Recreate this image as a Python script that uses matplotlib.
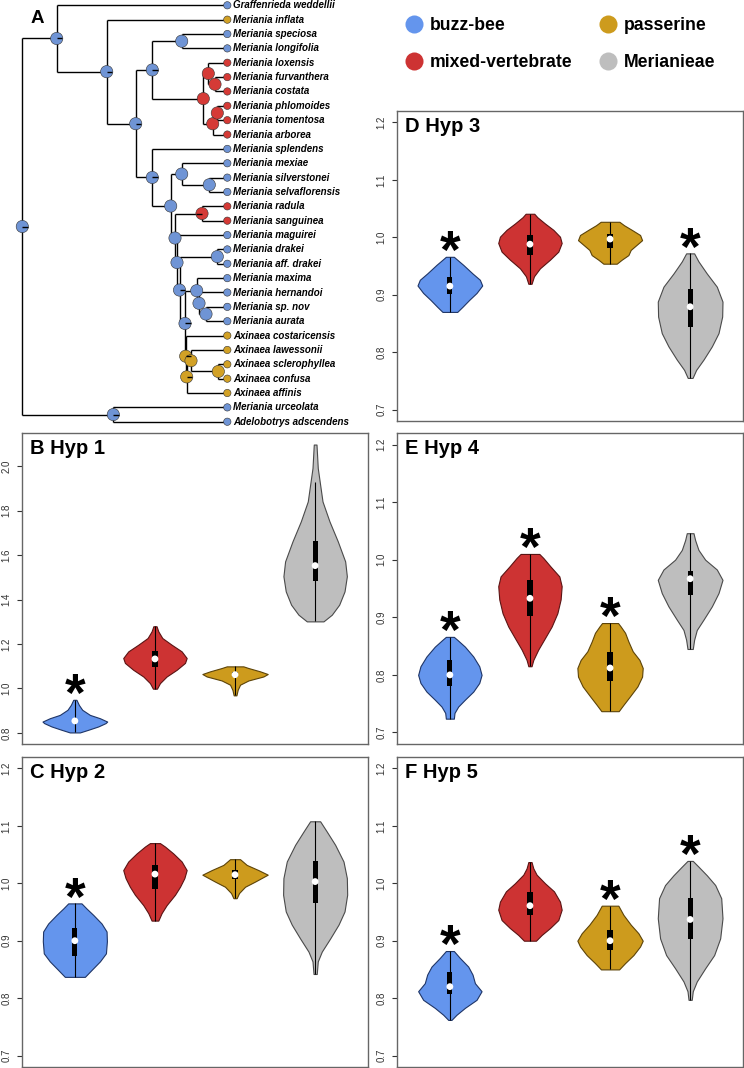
import matplotlib
matplotlib.use("Agg")
import matplotlib.pyplot as plt
from matplotlib.lines import Line2D

plt.rcParams['font.family'] = ['Liberation Sans', 'DejaVu Sans']

W, H = 744, 1068

groups = ["buzz-bee", "mixed-vertebrate", "passerine", "Merianieae"]
fills = ["#6495ED", "#CD3333", "#CD9B1D", "#BEBEBE"]
edges = ["#1f3566", "#5a1414", "#5c4308", "#4a4a4a"]
tree_cols = ["#6F94D5", "#D53A36", "#D2A126"]

# ---- tree (A) ----
tip_names = ["Graffenrieda weddellii", "Meriania inflata", "Meriania speciosa",
             "Meriania longifolia", "Meriania loxensis", "Meriania furvanthera",
             "Meriania costata", "Meriania phlomoides", "Meriania tomentosa",
             "Meriania arborea", "Meriania splendens", "Meriania mexiae",
             "Meriania silverstonei", "Meriania selvaflorensis", "Meriania radula",
             "Meriania sanguinea", "Meriania maguirei", "Meriania drakei",
             "Meriania aff. drakei", "Meriania maxima", "Meriania hernandoi",
             "Meriania sp. nov", "Meriania aurata", "Axinaea costaricensis",
             "Axinaea lawessonii", "Axinaea sclerophyllea", "Axinaea confusa",
             "Axinaea affinis", "Meriania urceolata", "Adelobotrys adscendens"]
# 0 buzz-bee, 1 mixed-vertebrate, 2 passerine
tip_state = [0, 2, 0, 0, 1, 1, 1, 1, 1, 1, 0, 0, 0, 0, 1, 1, 0, 0, 0, 0, 0, 0, 0,
             2, 2, 2, 2, 2, 0, 0]
tip_depth = 205

node_names = ["root", "n1", "n2", "n3", "n4", "spe", "red", "lox", "fur", "phl",
              "pt", "n5", "n6", "mex", "ss", "n7", "rad", "n8", "n9", "dra", "n10",
              "max", "her", "spn", "ax1", "ax2", "ax3", "scl", "urc"]
node_depth = [0, 34.4, 84.4, 113.4, 130, 159.4, 181, 186, 192.7, 190.4,
              195, 130, 148.4, 159.4, 187, 152.7, 179.7, 154.7, 157.2, 195, 162.7,
              174.4, 176.7, 183.7, 163.4, 164.4, 168.7, 196, 91]
node_kids = [["n1", "urc"], [0, "n2"], [1, "n3"], ["n4", "n5"], ["spe", "red"],
             [2, 3], ["lox", "phl"], [4, "fur"], [5, 6], ["pt", 9],
             [7, 8], [10, "n6"], ["mex", "n7"], [11, "ss"], [12, 13], ["rad", "n8"],
             [14, 15], [16, "n9"], ["dra", "n10"], [17, 18], ["max", "ax1"],
             [19, "her"], [20, "spn"], [21, 22], [23, "ax2"], ["ax3", 27],
             [24, "scl"], [25, 26], [28, 29]]
node_state = [0, 0, 0, 0, 0, 0, 1, 1, 1, 1,
              1, 0, 0, 0, 0, 0, 1, 0, 0, 0, 0,
              0, 0, 0, 2, 2, 2, 2, 0]
# small slice of a second state in the pie: 1 right, -1 left
node_tick = [1, 1, 1, 1, 1, 0, 0, 0, 0, 0,
             0, 1, 0, 0, 0, 0, -1, 0, 1, 0, 1,
             0, 0, 0, 1, 1, 0, 0, 1]

# ---- violins: per hypothesis, per group (bottom -> top profile) ----
hyp1_y = [[0.802, 0.814, 0.829, 0.844, 0.851, 0.866, 0.881, 0.904, 0.926, 0.949],
          [0.999, 1.024, 1.054, 1.084, 1.115, 1.137, 1.167, 1.197, 1.227, 1.257, 1.280],
          [0.969, 0.994, 1.017, 1.036, 1.054, 1.065, 1.077, 1.092, 1.0995],
          [1.302, 1.332, 1.377, 1.437, 1.505, 1.572, 1.662, 1.752, 1.842, 1.917, 1.992, 2.098]]
hyp1_w = [[0.0625, 0.167, 0.292, 0.383, 0.404, 0.313, 0.188, 0.092, 0.05, 0.02],
          [0.025, 0.0625, 0.146, 0.271, 0.375, 0.396, 0.333, 0.208, 0.092, 0.042, 0.02],
          [0.017, 0.033, 0.0625, 0.167, 0.354, 0.408, 0.313, 0.167, 0.104],
          [0.104, 0.208, 0.30, 0.367, 0.396, 0.375, 0.283, 0.179, 0.092, 0.0625, 0.033, 0.017]]
hyp1_box = [(0.846, 0.854, 0.862), (1.095, 1.133, 1.170), (1.052, 1.062, 1.072), (1.482, 1.553, 1.662)]
hyp1_whisk = [(0.802, 0.949), (0.999, 1.280), (0.969, 1.0995), (1.302, 1.929)]
hyp1_star = [1, 0, 0, 0]

hyp2_y = [[0.837, 0.849, 0.864, 0.878, 0.899, 0.916, 0.930, 0.945, 0.956, 0.965],
          [0.935, 0.948, 0.962, 0.980, 0.994, 1.009, 1.023, 1.038, 1.052, 1.064, 1.070],
          [0.974, 0.983, 0.994, 1.003, 1.015, 1.023, 1.032, 1.042],
          [0.842, 0.864, 0.881, 0.904, 0.928, 0.951, 0.980, 1.009, 1.038, 1.067, 1.090, 1.108]]
hyp2_w = [[0.125, 0.208, 0.313, 0.388, 0.40, 0.396, 0.333, 0.229, 0.146, 0.083],
          [0.042, 0.083, 0.146, 0.25, 0.313, 0.367, 0.396, 0.333, 0.229, 0.125, 0.0625],
          [0.02, 0.05, 0.125, 0.25, 0.408, 0.292, 0.146, 0.0625],
          [0.02, 0.033, 0.083, 0.188, 0.292, 0.367, 0.40, 0.396, 0.354, 0.25, 0.146, 0.0625]]
hyp2_box = [(0.874, 0.900, 0.923), (0.990, 1.016, 1.032), (1.007, 1.015, 1.023), (0.966, 1.003, 1.039)]
hyp2_whisk = [(0.837, 0.965), (0.935, 1.070), (0.974, 1.042), (0.842, 1.108)]
hyp2_star = [1, 0, 0, 0]

hyp3_y = [[0.870, 0.879, 0.891, 0.903, 0.916, 0.926, 0.937, 0.952, 0.962, 0.966],
          [0.919, 0.932, 0.946, 0.961, 0.975, 0.990, 1.001, 1.013, 1.024, 1.035, 1.041],
          [0.954, 0.961, 0.969, 0.978, 0.987, 0.995, 1.004, 1.013, 1.021, 1.027],
          [0.755, 0.769, 0.787, 0.810, 0.833, 0.862, 0.888, 0.914, 0.937, 0.958, 0.972]]
hyp3_w = [[0.092, 0.158, 0.242, 0.333, 0.404, 0.375, 0.283, 0.167, 0.083, 0.05],
          [0.02, 0.05, 0.125, 0.25, 0.354, 0.396, 0.375, 0.292, 0.188, 0.092, 0.054],
          [0.083, 0.146, 0.229, 0.258, 0.333, 0.40, 0.375, 0.271, 0.175, 0.117],
          [0.03, 0.075, 0.167, 0.271, 0.354, 0.40, 0.404, 0.333, 0.208, 0.104, 0.05]]
hyp3_box = [(0.901, 0.915, 0.930), (0.970, 0.988, 1.004), (0.982, 0.997, 1.006), (0.843, 0.879, 0.910)]
hyp3_whisk = [(0.870, 0.966), (0.919, 1.041), (0.954, 1.027), (0.755, 0.972)]
hyp3_star = [1, 0, 0, 1]

hyp4_y = [[0.724, 0.734, 0.745, 0.757, 0.771, 0.786, 0.800, 0.815, 0.832, 0.849, 0.861, 0.866],
          [0.815, 0.826, 0.844, 0.864, 0.884, 0.907, 0.931, 0.954, 0.971, 0.988, 1.003, 1.010],
          [0.737, 0.748, 0.763, 0.780, 0.797, 0.812, 0.826, 0.841, 0.858, 0.873, 0.884, 0.890],
          [0.845, 0.861, 0.878, 0.896, 0.919, 0.942, 0.965, 0.983, 1.000, 1.017, 1.034, 1.046]]
hyp4_w = [[0.05, 0.058, 0.104, 0.188, 0.292, 0.367, 0.396, 0.367, 0.292, 0.188, 0.092, 0.05],
          [0.02, 0.042, 0.104, 0.188, 0.271, 0.342, 0.383, 0.396, 0.367, 0.258, 0.167, 0.117],
          [0.108, 0.167, 0.25, 0.342, 0.40, 0.408, 0.367, 0.283, 0.229, 0.188, 0.133, 0.10],
          [0.033, 0.05, 0.083, 0.167, 0.271, 0.354, 0.404, 0.333, 0.188, 0.104, 0.0625, 0.042]]
hyp4_box = [(0.780, 0.800, 0.825), (0.903, 0.933, 0.964), (0.789, 0.812, 0.839), (0.939, 0.967, 0.981)]
hyp4_whisk = [(0.724, 0.866), (0.815, 1.010), (0.737, 0.890), (0.845, 1.046)]
hyp4_star = [1, 1, 1, 0]

hyp5_y = [[0.762, 0.771, 0.783, 0.797, 0.812, 0.826, 0.841, 0.855, 0.870, 0.882],
          [0.900, 0.910, 0.922, 0.936, 0.954, 0.968, 0.986, 1.000, 1.015, 1.026, 1.037],
          [0.850, 0.861, 0.875, 0.890, 0.900, 0.913, 0.928, 0.945, 0.961],
          [0.797, 0.812, 0.829, 0.852, 0.875, 0.904, 0.939, 0.974, 0.997, 1.014, 1.029, 1.039]]
hyp5_w = [[0.02, 0.083, 0.188, 0.333, 0.396, 0.313, 0.283, 0.229, 0.125, 0.05],
          [0.075, 0.146, 0.25, 0.354, 0.396, 0.375, 0.30, 0.188, 0.083, 0.042, 0.02],
          [0.113, 0.188, 0.292, 0.375, 0.408, 0.354, 0.258, 0.167, 0.104],
          [0.02, 0.033, 0.083, 0.188, 0.30, 0.375, 0.404, 0.388, 0.313, 0.208, 0.104, 0.033]]
hyp5_box = [(0.807, 0.820, 0.846), (0.944, 0.961, 0.984), (0.884, 0.900, 0.919), (0.903, 0.937, 0.974)]
hyp5_whisk = [(0.762, 0.882), (0.900, 1.037), (0.850, 0.961), (0.797, 1.039)]
hyp5_star = [1, 0, 1, 1]

ticks_hyp1 = [0.8, 1.0, 1.2, 1.4, 1.6, 1.8, 2.0]
ticks_rest = [0.7, 0.8, 0.9, 1.0, 1.1, 1.2]


def px_axes(fig, x0, y0, x1, y1):
    return fig.add_axes([x0 / W, 1 - y1 / H, (x1 - x0) / W, (y1 - y0) / H])


fig = plt.figure(figsize=(W / 100, H / 100), dpi=100)

# tree
ax = px_axes(fig, 0, 0, 372, 430)
ax.set_xlim(-22.3, 349.7)
ax.set_ylim((430 - 5.3) / 14.36, -5.3 / 14.36)
ax.axis("off")

node_idx = {n: i for i, n in enumerate(node_names)}
ypos = {}


def node_y(ref):
    if isinstance(ref, int):
        return ref
    if ref not in ypos:
        kids = node_kids[node_idx[ref]]
        ypos[ref] = (node_y(kids[0]) + node_y(kids[-1])) / 2
    return ypos[ref]


def node_x(ref):
    return tip_depth if isinstance(ref, int) else node_depth[node_idx[ref]]


for i, n in enumerate(node_names):
    ky = [node_y(k) for k in node_kids[i]]
    ax.plot([node_depth[i], node_depth[i]], [min(ky), max(ky)], color="black", lw=1.0,
            solid_capstyle="butt", zorder=1)
    for k in node_kids[i]:
        ax.plot([node_depth[i], node_x(k)], [node_y(k), node_y(k)], color="black", lw=1.0,
                solid_capstyle="butt", zorder=1)

ax.scatter([tip_depth] * len(tip_names), range(len(tip_names)),
           c=[tree_cols[s] for s in tip_state], s=28, edgecolors="#333333",
           linewidths=0.4, zorder=3)
for i, name in enumerate(tip_names):
    ax.text(tip_depth + 5.7, i, name, fontsize=7, fontstyle="italic", fontweight="bold",
            va="center", ha="left")

ax.scatter(node_depth, [node_y(n) for n in node_names],
           c=[tree_cols[s] for s in node_state], s=78, edgecolors="#333333",
           linewidths=0.4, zorder=3)
for i, n in enumerate(node_names):
    if node_tick[i]:
        ax.plot([node_depth[i], node_depth[i] + 5.6 * node_tick[i]], [node_y(n)] * 2,
                color="black", lw=1.0, zorder=4, solid_capstyle="butt")

fig.text(37 / W, 1 - 23 / H, "A", fontsize=13.5, fontweight="bold", ha="center",
         va="baseline")

# legend
handles = [Line2D([], [], ls="none", marker="o", markersize=13, markerfacecolor=c,
                  markeredgecolor="none") for c in fills]
fig.legend(handles, groups, ncol=2, loc="upper left",
           bbox_to_anchor=(396 / W, 1 - 8 / H), frameon=False,
           prop={"size": 12.7, "weight": "bold"}, borderpad=0, handlelength=1.0,
           handletextpad=0.4, columnspacing=1.55, labelspacing=1.15)

panels = [
    ("B Hyp 1", (22, 433, 368, 744), hyp1_y, hyp1_w, hyp1_box, hyp1_whisk, hyp1_star,
     ticks_hyp1, (0.75, 2.15)),
    ("C Hyp 2", (22, 757, 368, 1067), hyp2_y, hyp2_w, hyp2_box, hyp2_whisk, hyp2_star,
     ticks_rest, (0.68, 1.22)),
    ("D Hyp 3", (397, 111, 743, 421), hyp3_y, hyp3_w, hyp3_box, hyp3_whisk, hyp3_star,
     ticks_rest, (0.68, 1.22)),
    ("E Hyp 4", (397, 433, 743, 744), hyp4_y, hyp4_w, hyp4_box, hyp4_whisk, hyp4_star,
     ticks_rest, (0.68, 1.22)),
    ("F Hyp 5", (397, 757, 743, 1067), hyp5_y, hyp5_w, hyp5_box, hyp5_whisk, hyp5_star,
     ticks_rest, (0.68, 1.22)),
]

for title, box_px, ys, ws, boxes, whisk, stars, yt, ylim in panels:
    ax = px_axes(fig, *box_px)
    for g in range(4):
        c = g + 1
        left = [c - w for w in ws[g]]
        right = [c + w for w in ws[g]]
        ax.fill_betweenx(ys[g], left, right, facecolor=fills[g], edgecolor=edges[g],
                         lw=0.8, zorder=2)
        ax.vlines(c, whisk[g][0], whisk[g][1], color="black", lw=0.8, zorder=3)
        q1, med, q3 = boxes[g]
        ax.bar(c, q3 - q1, bottom=q1, width=0.065, color="black", zorder=4)
        ax.scatter([c], [med], s=24, c="white", edgecolors="none", zorder=5)
        if stars[g]:
            ax.annotate("*", xy=(c, max(ys[g])), xytext=(0, -8), textcoords="offset points",
                        ha="center", va="baseline", fontsize=38, fontweight="bold")
    ax.set_xlim(0.34, 4.66)
    ax.set_ylim(*ylim)
    ax.set_xticks([])
    ax.set_yticks(yt)
    ax.set_yticklabels(["%.1f" % t for t in yt])
    ax.tick_params(axis="y", labelsize=7, length=3.5, width=0.8, pad=4.0,
                   colors="#333333", labelrotation=90)
    for lbl in ax.get_yticklabels():
        lbl.set_va("center")
    for sp in ax.spines.values():
        sp.set_color("#666666")
        sp.set_linewidth(1.0)
    ax.annotate(title, xy=(0, 1), xycoords="axes fraction", xytext=(6.0, -15.1),
                textcoords="offset points", ha="left", va="baseline", fontsize=14.5,
                fontweight="bold")

fig.savefig("out.png", dpi=100)
